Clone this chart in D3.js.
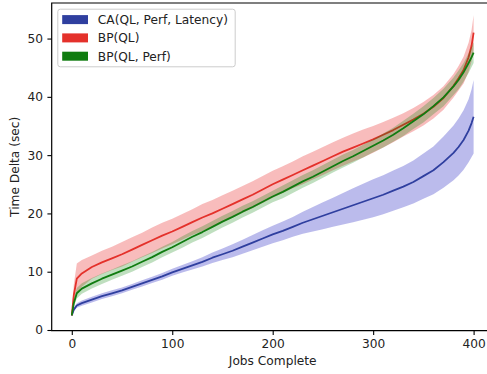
<!DOCTYPE html>
<html>
<head>
<meta charset="utf-8">
<script src="https://cdn.jsdelivr.net/npm/d3@7"></script>
<style>
  body { margin: 0; background: #fff; }
  svg text { font-family: "DejaVu Sans", sans-serif; }
</style>
</head>
<body>
<svg id="chart"></svg>
<script>
// values
let jobs = [0, 2, 5, 10, 20, 30, 40, 50, 60, 70, 80, 90, 100, 110, 120, 130, 140, 150, 160, 170,
  180, 190, 200, 210, 220, 230, 240, 250, 260, 270, 280, 290, 300, 310, 320, 330, 340, 350, 360,
  370, 380, 385, 390, 395, 398, 400];

let seriesNames = ["CA(QL, Perf, Latency)", "BP(QL)", "BP(QL, Perf)"];

let caMean = [2.5, 3.5, 4.2, 4.6, 5.2, 5.8, 6.3, 6.8, 7.4, 8.0, 8.6, 9.2, 9.9, 10.5, 11.1, 11.7, 12.4, 13.0, 13.6, 14.3,
  15.0, 15.7, 16.4, 17.0, 17.7, 18.4, 19.0, 19.6, 20.2, 20.8, 21.4, 22.0, 22.6, 23.2, 23.9, 24.6, 25.4, 26.4, 27.4,
  28.8, 30.4, 31.4, 32.6, 34.2, 35.5, 36.6];
let caStd = [0.1, 0.3, 0.4, 0.45, 0.5, 0.5, 0.5, 0.5, 0.5, 0.55, 0.55, 0.6, 0.6, 0.65, 0.7, 0.8, 0.9, 1.0, 1.1, 1.2,
  1.3, 1.4, 1.5, 1.6, 1.7, 1.9, 2.1, 2.3, 2.5, 2.7, 2.9, 3.1, 3.25, 3.35, 3.45, 3.55, 3.7, 3.9, 4.1,
  4.4, 4.7, 4.9, 5.1, 5.4, 5.8, 6.3];

let bpqlMean = [2.5, 6.0, 8.8, 9.7, 10.8, 11.6, 12.3, 13.0, 13.8, 14.6, 15.4, 16.2, 16.9, 17.7, 18.5, 19.3, 20.0, 20.8, 21.6, 22.4,
  23.2, 24.1, 25.0, 25.8, 26.6, 27.4, 28.2, 29.0, 29.8, 30.6, 31.3, 32.0, 32.7, 33.5, 34.3, 35.2, 36.1, 37.1, 38.3,
  39.8, 41.9, 43.2, 44.6, 46.8, 48.8, 51.0];
let bpqlStd = [0.2, 1.8, 2.6, 2.3, 2.0, 2.0, 2.0, 2.1, 2.1, 2.1, 2.2, 2.2, 2.2, 2.2, 2.2, 2.3, 2.3, 2.3, 2.3, 2.3,
  2.3, 2.3, 2.3, 2.3, 2.3, 2.4, 2.4, 2.4, 2.4, 2.4, 2.4, 2.4, 2.3, 2.2, 2.1, 2.0, 2.0, 2.0, 2.0,
  2.0, 2.0, 2.1, 2.3, 2.5, 2.7, 3.0];

let bpqlPerfMean = [2.5, 4.6, 6.3, 7.1, 8.0, 8.8, 9.5, 10.2, 10.9, 11.7, 12.5, 13.4, 14.2, 15.1, 16.0, 16.8, 17.7, 18.6, 19.4, 20.3,
  21.1, 22.0, 22.9, 23.7, 24.6, 25.5, 26.3, 27.2, 28.1, 29.0, 29.8, 30.7, 31.6, 32.5, 33.5, 34.6, 35.8, 37.0, 38.4,
  39.9, 41.8, 42.9, 44.2, 45.8, 46.8, 47.6];
let bpqlPerfStd = [0.2, 0.7, 0.9, 0.9, 0.9, 0.9, 0.9, 0.9, 0.9, 0.9, 0.9, 0.9, 0.9, 1.0, 1.0, 1.0, 1.0, 1.0, 1.0, 1.0,
  1.0, 1.0, 1.0, 1.1, 1.1, 1.1, 1.1, 1.1, 1.1, 1.1, 1.1, 1.1, 1.1, 1.2, 1.2, 1.3, 1.3, 1.4, 1.4,
  1.5, 1.5, 1.6, 1.6, 1.7, 1.7, 1.8];

let xTicks = [0, 100, 200, 300, 400];
let yTicks = [0, 10, 20, 30, 40, 50];

let lineColors = ["#2f3f9f", "#e4312b", "#107c10"];
let bandColors = ["#3c3cc8", "#e82020", "#008000"];
let bandOpacity = [0.35, 0.3, 0.25];

let w = 487, h = 374;
let fontSize = "12.2px";

let svg = d3.select("#chart").attr("width", w).attr("height", h);

let plotLeft = 51.7, plotRight = 493.7, plotTop = 3, plotBottom = 330.7;

let xScale = d3.scaleLinear().domain([-20, 420]).range([plotLeft, plotRight]);
let yScale = d3.scaleLinear().domain([-0.12, 56.1]).range([plotBottom, plotTop]);

let series = [
  { name: seriesNames[0], mean: caMean, std: caStd },
  { name: seriesNames[1], mean: bpqlMean, std: bpqlStd },
  { name: seriesNames[2], mean: bpqlPerfMean, std: bpqlPerfStd }
];

svg.append("clipPath").attr("id", "plotclip")
  .append("rect")
  .attr("x", plotLeft).attr("y", plotTop)
  .attr("width", plotRight - plotLeft).attr("height", plotBottom - plotTop);

let plot = svg.append("g").attr("clip-path", "url(#plotclip)");

let area = d3.area()
  .x(function (d) { return xScale(d.x); })
  .y0(function (d) { return yScale(d.m - d.s); })
  .y1(function (d) { return yScale(d.m + d.s); });

let line = d3.line()
  .x(function (d) { return xScale(d.x); })
  .y(function (d) { return yScale(d.m); });

series.forEach(function (s, i) {
  let pts = jobs.map(function (x, j) {
    return { x: x, m: s.mean[j], s: s.std[j] };
  });
  plot.append("path")
    .datum(pts)
    .attr("d", area)
    .attr("fill", bandColors[i])
    .attr("fill-opacity", bandOpacity[i])
    .attr("stroke", "none");
  plot.append("path")
    .datum(pts)
    .attr("d", line)
    .attr("fill", "none")
    .attr("stroke", lineColors[i])
    .attr("stroke-width", 1.8)
    .attr("stroke-linejoin", "round");
});

// axes
let xAxis = svg.append("g")
  .attr("transform", "translate(0," + plotBottom + ")")
  .call(d3.axisBottom(xScale).tickValues(xTicks).tickSize(4.3).tickPadding(4.3).tickSizeOuter(0));
let yAxis = svg.append("g")
  .attr("transform", "translate(" + plotLeft + ",0)")
  .call(d3.axisLeft(yScale).tickValues(yTicks).tickSize(4.3).tickPadding(4.3).tickSizeOuter(0));

[xAxis, yAxis].forEach(function (a) {
  a.select(".domain").remove();
  a.selectAll("line").attr("stroke", "#000").attr("stroke-width", 1.1);
  a.selectAll("text")
    .attr("fill", "#222")
    .style("font-size", fontSize)
    .style("font-family", "DejaVu Sans");
});

// spines
svg.append("path")
  .attr("d", "M" + plotRight + "," + plotTop + "H" + plotLeft + "V" + plotBottom + "H" + plotRight)
  .attr("fill", "none")
  .attr("stroke", "#000")
  .attr("stroke-width", 1.2);

// axis titles
svg.append("text")
  .attr("x", (plotLeft + plotRight) / 2)
  .attr("y", 365)
  .attr("text-anchor", "middle")
  .attr("fill", "#222")
  .style("font-size", fontSize)
  .text("Jobs Complete");

svg.append("text")
  .attr("transform", "translate(19," + (plotTop + plotBottom) / 2 + ") rotate(-90)")
  .attr("text-anchor", "middle")
  .attr("fill", "#222")
  .style("font-size", fontSize)
  .text("Time Delta (sec)");

// legend
let legend = svg.append("g");
legend.append("rect")
  .attr("x", 57.8).attr("y", 9.2)
  .attr("width", 177.4).attr("height", 57.6)
  .attr("rx", 2.5).attr("ry", 2.5)
  .attr("fill", "#fff").attr("fill-opacity", 0.8)
  .attr("stroke", "#ccc").attr("stroke-width", 1);

seriesNames.forEach(function (name, i) {
  let cy = 19.6 + i * 18.3;
  legend.append("rect")
    .attr("x", 62.2).attr("y", cy - 4.5)
    .attr("width", 25.8).attr("height", 9)
    .attr("fill", lineColors[i]);
  legend.append("text")
    .attr("x", 97.8).attr("y", cy)
    .attr("dy", "0.36em")
    .attr("fill", "#222")
    .style("font-size", fontSize)
    .text(name);
});
</script>
</body>
</html>
